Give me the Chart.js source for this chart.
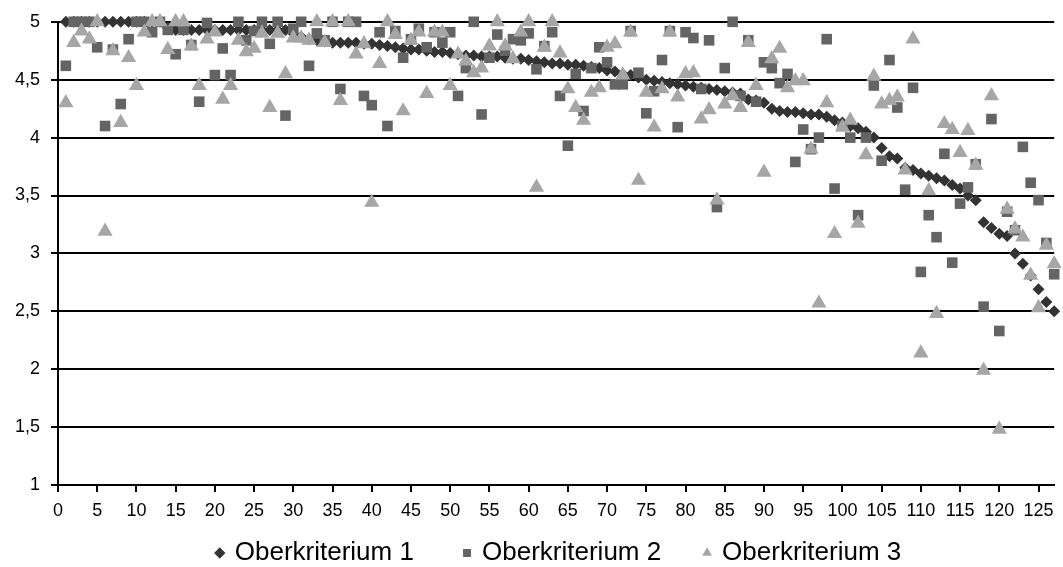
<!DOCTYPE html>
<html>
<head>
<meta charset="utf-8">
<script src="https://cdn.jsdelivr.net/npm/chart.js@4.4.1/dist/chart.umd.min.js"></script>
<style>
html,body{margin:0;padding:0;background:#fff;}
#wrap{width:1063px;height:567px;position:relative;}
</style>
</head>
<body>
<div id="wrap"><canvas id="c" width="1063" height="567"></canvas></div>
<script>
const categories = [1,2,3,4,5,6,7,8,9,10,11,12,13,14,15,16,17,18,19,20,21,22,23,24,25,26,27,28,29,30,31,32,33,34,35,36,37,38,39,40,41,42,43,44,45,46,47,48,49,50,51,52,53,54,55,56,57,58,59,60,61,62,63,64,65,66,67,68,69,70,71,72,73,74,75,76,77,78,79,80,81,82,83,84,85,86,87,88,89,90,91,92,93,94,95,96,97,98,99,100,101,102,103,104,105,106,107,108,109,110,111,112,113,114,115,116,117,118,119,120,121,122,123,124,125,126,127];

const seriesNames = ["Oberkriterium 1","Oberkriterium 2","Oberkriterium 3"];

const ober1 = [5,5,5,5,5,5,5,5,5,5,5,5,5,4.95,
4.93,4.93,4.93,4.93,4.93,4.93,4.93,4.93,4.93,4.93,4.93,4.93,4.93,4.93,4.93,
4.9,4.87,4.85,4.84,4.83,4.82,4.82,4.82,4.82,4.81,4.81,
4.8,4.79,4.78,4.77,4.76,4.76,4.75,4.74,4.74,4.73,4.72,4.71,4.71,4.7,4.7,4.7,4.69,4.68,4.68,4.67,
4.66,4.65,4.64,4.64,4.63,4.63,4.62,4.61,4.6,4.58,4.57,4.55,4.54,4.52,4.5,4.49,4.48,4.47,4.46,4.45,
4.44,4.43,4.42,4.41,4.4,4.39,4.38,4.33,4.32,4.3,4.25,4.23,4.22,4.22,4.21,4.2,4.2,4.18,4.15,4.13,
4.1,4.08,4.05,4.0,3.91,3.84,3.82,3.74,3.72,3.69,3.67,3.65,3.63,3.59,3.56,3.5,3.46,3.27,3.22,3.17,
3.15,3.0,2.91,2.81,2.69,2.58,2.5];

const ober2 = [4.62,5,5,5,4.78,4.10,4.76,4.29,4.85,5,5,4.91,5,4.93,4.72,4.93,4.8,4.31,4.99,4.54,
4.77,4.54,5,4.84,4.92,5,4.81,5,4.19,4.94,5,4.62,4.9,4.84,5,4.42,5,5,4.36,4.28,
4.91,4.10,4.92,4.69,4.85,4.94,4.78,4.91,4.82,4.91,4.36,4.6,5,4.2,4.69,4.89,4.75,4.85,4.84,4.9,
4.59,4.79,4.91,4.36,3.93,4.55,4.23,4.6,4.78,4.65,4.46,4.46,4.92,4.56,4.21,4.4,4.67,4.92,4.09,4.91,
4.86,4.42,4.84,3.40,4.6,5.0,4.36,4.84,4.31,4.65,4.6,4.47,4.55,3.79,4.07,3.9,4.0,4.85,3.56,4.1,
4.0,3.33,4.0,4.45,3.8,4.67,4.26,3.55,4.43,2.84,3.33,3.14,3.86,2.92,3.43,3.57,3.77,2.54,4.16,2.33,
3.36,3.2,3.92,3.61,3.46,3.09,2.82];

const ober3 = [4.3,4.82,4.92,4.85,5.0,3.19,4.75,4.13,4.69,4.45,4.91,5.0,5.0,4.76,5.0,5.0,4.79,4.45,4.85,4.91,
4.33,4.45,4.84,4.74,4.77,4.9,4.26,4.9,4.55,4.86,4.86,4.84,5.0,4.82,5.0,4.32,5.0,4.72,4.81,3.44,
4.64,5.0,4.89,4.23,4.84,4.91,4.38,4.91,4.91,4.45,4.72,4.66,4.56,4.6,4.79,5.0,4.79,4.68,4.91,5.0,
3.57,4.78,5.0,4.73,4.42,4.26,4.15,4.39,4.43,4.78,4.81,4.54,4.91,3.63,4.39,4.09,4.42,4.91,4.35,4.55,
4.56,4.16,4.24,3.46,4.29,4.36,4.26,4.82,4.45,3.7,4.68,4.77,4.43,4.49,4.49,3.9,2.57,4.3,3.17,4.09,
4.15,3.26,3.85,4.53,4.29,4.32,4.35,3.72,4.85,2.14,3.54,2.48,4.12,4.07,3.87,4.06,3.76,1.99,4.36,1.48,
3.38,3.21,3.14,2.81,2.53,3.07,2.91];

const yTicks = [1,1.5,2,2.5,3,3.5,4,4.5,5];
const xTicks = [0,5,10,15,20,25,30,35,40,45,50,55,60,65,70,75,80,85,90,95,100,105,110,115,120,125];

function pts(vals){ return categories.map((c,i)=>({x:c,y:vals[i]})); }

const FONT = "'Liberation Sans', Arial, sans-serif";
const GAPS = ["\u00a0\u00a0\u00a0\u00a0\u00a0", "\u00a0\u00a0\u00a0\u00a0", ""];

const legendShift = {
  id:'legendShift',
  afterLayout(chart){
    const lg = chart.legend;
    if (lg) { lg.left += 32; lg.right += 32; }
  }
};

new Chart(document.getElementById('c'), {
  type: 'scatter',
  data: {
    datasets: [
      {label: seriesNames[0], data: pts(ober1), pointStyle:'rectRot', pointRadius:6, backgroundColor:'#333333', borderColor:'#333333', borderWidth:0, order:3, clip:false},
      {label: seriesNames[1], data: pts(ober2), pointStyle:'rect', pointRadius:7.5, backgroundColor:'#646464', borderColor:'#646464', borderWidth:0, order:2, clip:false},
      {label: seriesNames[2], data: pts(ober3), pointStyle:'triangle', pointRadius:8.8, backgroundColor:'#a6a6a6', borderColor:'#a6a6a6', borderWidth:0, order:1, clip:false}
    ]
  },
  plugins:[legendShift],
  options: {
    responsive:false,
    animation:false,
    events:[],
    layout:{padding:{top:12,right:8,left:0,bottom:0}},
    plugins:{
      tooltip:{enabled:false},
      legend:{
        position:'bottom',
        maxHeight:42,
        labels:{
          usePointStyle:true, boxWidth:4, boxHeight:8, padding:15,
          color:'#000', font:{family:FONT, size:26},
          sort:(a,b)=>a.datasetIndex-b.datasetIndex,
          generateLabels:(chart)=>{
            const items = Chart.defaults.plugins.legend.labels.generateLabels(chart);
            items.forEach(it=>{ it.text = it.text + GAPS[it.datasetIndex]; });
            return items;
          }
        }
      }
    },
    scales:{
      x:{
        type:'linear', min:0, max:127,
        afterBuildTicks:(s)=>{ s.ticks = xTicks.map(v=>({value:v})); },
        afterFit:(s)=>{ s.height = 40; },
        grid:{drawOnChartArea:false, drawTicks:true, tickLength:7, color:'#000', lineWidth:2},
        border:{display:true, color:'#000', width:2},
        ticks:{color:'#000', font:{family:FONT, size:18}, padding:8, maxRotation:0, autoSkip:false}
      },
      y:{
        min:1, max:5,
        afterBuildTicks:(s)=>{ s.ticks = yTicks.map(v=>({value:v})); },
        afterFit:(s)=>{ s.width = 58; },
        grid:{color:'#000', lineWidth:2, tickLength:7, drawTicks:true},
        border:{display:true, color:'#000', width:2},
        ticks:{color:'#000', font:{family:FONT, size:18}, padding:11,
          callback:(v)=>String(v).replace('.',',')}
      }
    }
  }
});
</script>
</body>
</html>
